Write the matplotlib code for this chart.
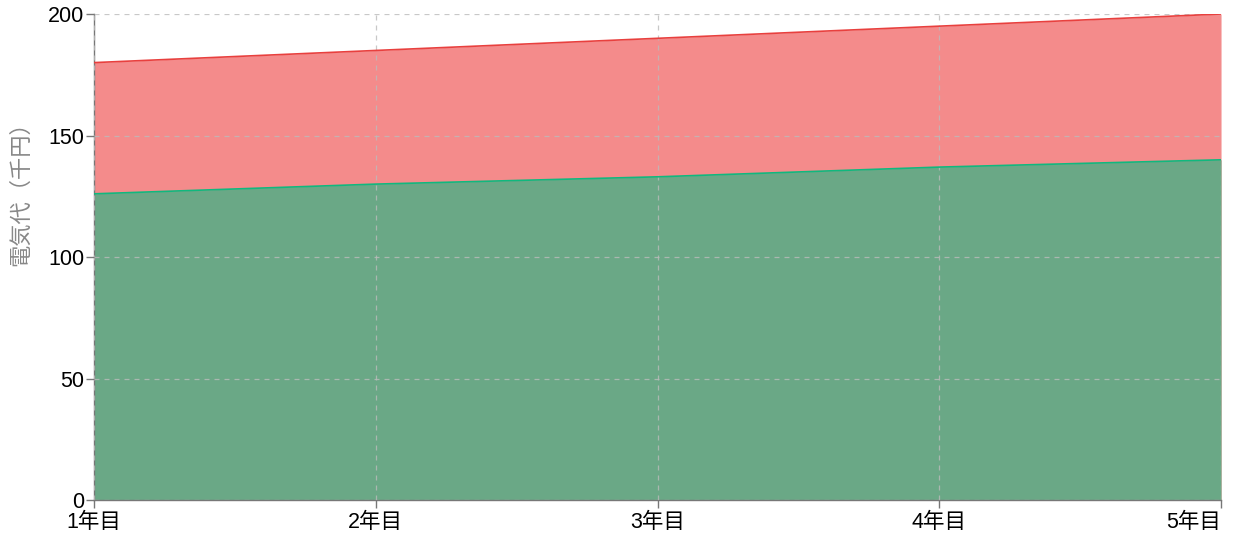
import matplotlib
matplotlib.use("Agg")
import matplotlib.pyplot as plt

plt.rcParams["font.family"] = ["Liberation Sans", "Noto Sans CJK JP", "DejaVu Sans"]

years = ["1年目", "2年目", "3年目", "4年目", "5年目"]
base_cost = [126, 130, 133, 137, 140]
total_cost = [180, 185, 190, 195, 200]

fig = plt.figure(figsize=(12.39, 5.47), dpi=100)
ax = fig.add_axes([0.0759, 0.0859, 0.9096, 0.8885])

x = list(range(len(years)))
ax.fill_between(x, 0, total_cost, color="#f48b8b", linewidth=0, zorder=1)
ax.plot(x, total_cost, color="#e8403e", linewidth=1.2, zorder=3)
ax.fill_between(x, 0, base_cost, color="#6aa886", linewidth=0, zorder=2)
ax.plot(x, base_cost, color="#10b87e", linewidth=1.2, zorder=3)

ax.set_xlim(0, len(years) - 1)
ax.set_ylim(0, 200)
ax.set_xticks(x)
ax.set_xticklabels(years)
ax.set_yticks([0, 50, 100, 150, 200])

ax.grid(True, linestyle=(0, (4, 4)), color="#bbbbbb", linewidth=0.9, alpha=0.8, zorder=4)
ax.set_axisbelow(False)

for side in ["top", "right"]:
    ax.spines[side].set_visible(False)
for side in ["left", "bottom"]:
    ax.spines[side].set_color("#777777")
    ax.spines[side].set_linewidth(1.0)

ax.tick_params(axis="both", colors="#777777", length=6, width=1.0,
               labelcolor="black", labelsize=15.5, pad=1)
ax.tick_params(axis="x", pad=2.5)
# last category label is pulled inside the canvas, as in the original
ax.get_xticklabels()[-1].set_horizontalalignment("right")

ax.set_ylabel("電気代（千円）", color="#888888", fontsize=16,
              family=["Noto Sans CJK JP", "DejaVu Sans"])
ax.yaxis.set_label_coords(-0.055, 0.642)

fig.savefig("out.png", dpi=100)
